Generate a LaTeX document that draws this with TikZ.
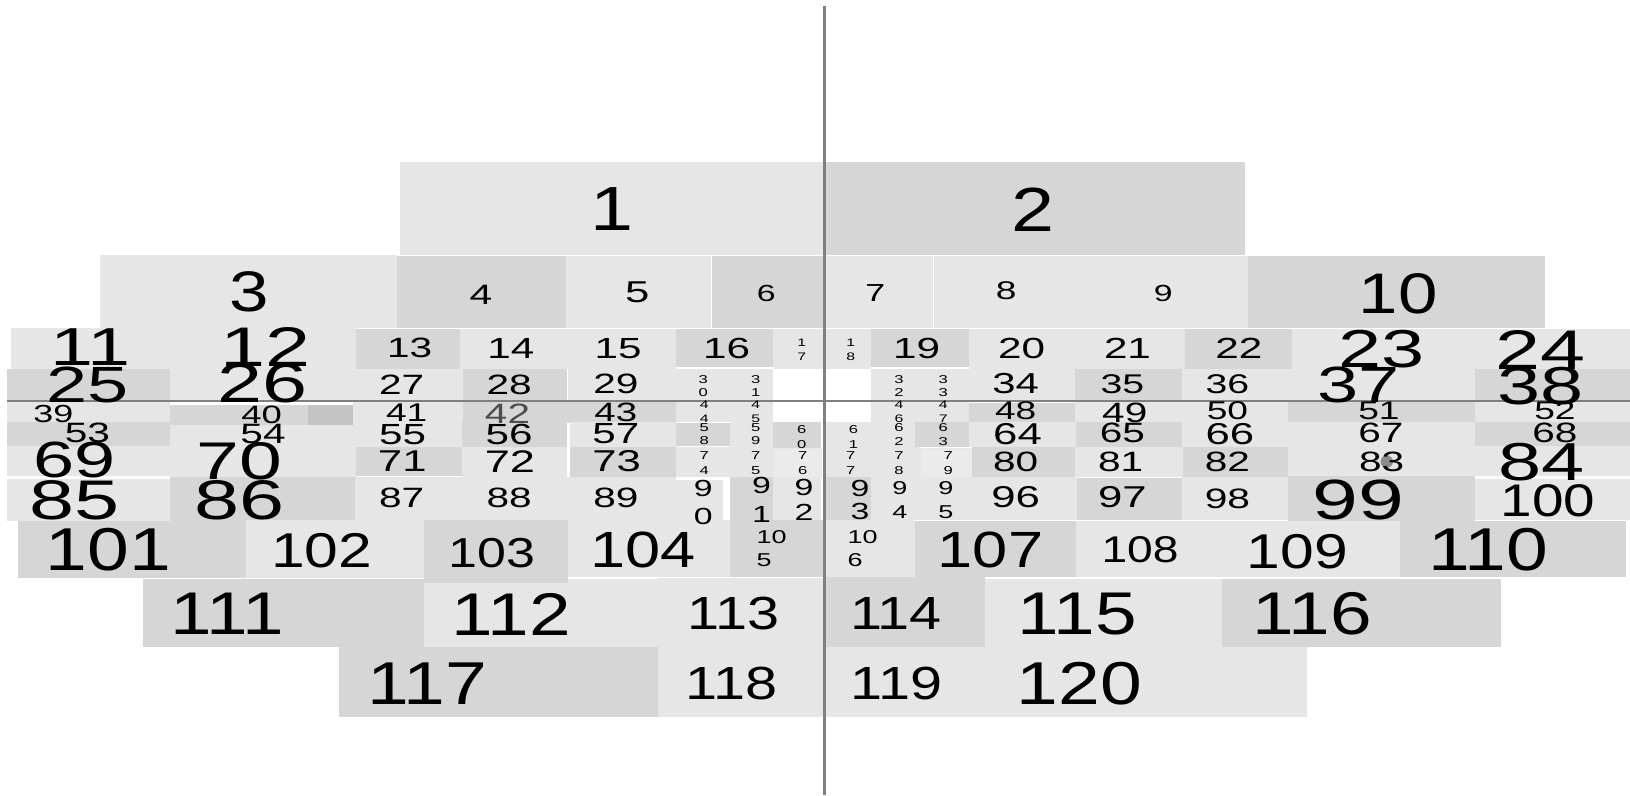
\documentclass[tikz,border=0pt]{standalone}
\usepackage{fontspec}
\setmainfont{Liberation Sans}[FakeStretch=1.45]
\newfontfamily\nf{Liberation Sans}[FakeStretch=1.24]
\definecolor{cl}{HTML}{E6E6E6}
\definecolor{cd}{HTML}{D6D6D6}
\definecolor{cp}{HTML}{C4C4C4}
\definecolor{cx}{HTML}{EBEBEB}
\definecolor{axis}{HTML}{808080}
\tikzset{
  lt/.style={fill=cl},
  dk/.style={fill=cd},
  lab/.style={inner sep=0pt, outer sep=0pt, text=black},
}
\newcommand\lb[4]{\node[lab,font=\fontsize{#3}{#3}\selectfont] (n#1) at (#2) {#4};}
\newcommand\lbn[4]{\node[lab,font=\nf\fontsize{#3}{#3}\selectfont] (n#1) at (#2) {#4};}
\newcommand\sk[5]{\node[lab,align=center,font=\fontsize{#3}{#4}\selectfont] (n#1) at (#2) {#5};}
\newcommand\skl[5]{\node[lab,align=left,anchor=west,font=\fontsize{#3}{#4}\selectfont] (n#1) at (#2) {#5};}
\begin{document}
\begin{tikzpicture}[x=1pt,y=-1pt]
\fill[white] (0,0) rectangle (1568,765);
\useasboundingbox (0,0) rectangle (1568,765);
% Row K
\fill[dk] (326,622.7) rectangle (633,690);
\fill[lt] (633,622.7) rectangle (793,690);
\fill[lt] (793,622.7) rectangle (1257.3,690);
% Row J
\fill[dk] (137.3,557) rectangle (407.5,622.7);
\fill[lt] (407.5,557) rectangle (633,622.7);
\fill[lt] (633,556) rectangle (793,622.7);
\fill[dk] (793,555) rectangle (947.7,622.7);
\fill[lt] (947.7,557) rectangle (1175.4,622.7);
\fill[dk] (1175.4,557) rectangle (1444.2,622.7);
% Row I
\fill[dk] (17.6,500.2) rectangle (236.4,556.3);
\fill[lt] (236.4,500) rectangle (407.5,556);
\fill[dk] (407.5,500) rectangle (546,561);
\fill[lt] (546,500) rectangle (702,555);
\fill[dk] (702,500) rectangle (793,555);
\fill[lt] (793,500) rectangle (880.5,555);
\fill[dk] (880.5,500.8) rectangle (1035.3,555.3);
\fill[lt] (1035.3,500.8) rectangle (1346.6,555.3);
\fill[dk] (1346.6,500.8) rectangle (1564.5,555.3);
% Row H
\fill[lt] (6.5,461) rectangle (163.5,501.6);
\fill[dk] (163.5,458.3) rectangle (341.5,500);
\fill[lt] (341.5,458.5) rectangle (650,500);
\fill[lt] (644.4,461.7) rectangle (695.8,501.6);
\fill[dk] (702,458.3) rectangle (744,500);
\fill[lt] (744,458.3) rectangle (790,500);
\fill[dk] (792,458.3) rectangle (838,500);
\fill[lt] (838,458.5) rectangle (932,500);
\fill[lt] (932,458.5) rectangle (1036,500);
\fill[dk] (1036,460) rectangle (1137,500);
\fill[lt] (1137,458.5) rectangle (1239,500);
\fill[dk] (1239,458.3) rectangle (1419,500.8);
\fill[lt] (1419,461) rectangle (1568,500);
% Row G
\fill[lt] (6.5,429.5) rectangle (163.5,458.3);
\fill[lt] (163.5,430) rectangle (343,458.5);
\fill[dk] (342.5,429.5) rectangle (444,458.3);
\fill[lt] (444,430) rectangle (545,458.5);
\fill[dk] (548,430) rectangle (650,458.5);
\fill[lt] (650,430) rectangle (744,458.5);
\fill[cx,draw=cl] (744,431) rectangle (790,459);
\fill[lt] (793,430) rectangle (885,458.5);
\fill[cx,draw=cl] (885,431) rectangle (935,459);
\fill[dk] (935,430) rectangle (1034,458.5);
\fill[lt] (1034,430) rectangle (1138,458.5);
\fill[dk] (1138,430) rectangle (1239,458.5);
\fill[lt] (1239,429.5) rectangle (1568,458.3);
% Row F
\fill[dk] (6.5,405.5) rectangle (163.5,429.5);
\fill[lt] (163.5,406) rectangle (444,430);
\fill[dk] (444,406) rectangle (545,430);
\fill[lt] (548,406) rectangle (650,430);
\fill[dk] (650,407) rectangle (702,429.5);
\fill[lt] (702,406) rectangle (744,430);
\fill[dk] (744,406) rectangle (790,430.5);
\fill[lt] (793,406) rectangle (880,430);
\fill[dk] (880,406) rectangle (932,430);
\fill[lt] (932,406) rectangle (1035,430);
\fill[dk] (1035,406) rectangle (1137,430);
\fill[lt] (1137,406) rectangle (1239,430);
\fill[lt] (1239,405.5) rectangle (1419,429.5);
\fill[dk] (1419,405.5) rectangle (1568,429.5);
% Row E
\fill[lt] (6.5,386) rectangle (163.5,406);
\fill[dk] (163.5,389.5) rectangle (340,409);
\fill[cp] (296,389.5) rectangle (340,409);
\fill[lt] (340,386) rectangle (445,406);
\fill[dk] (445,386) rectangle (548,407);
\fill[dk] (548,386) rectangle (650,406);
\fill[lt] (650,386) rectangle (744,406);
\fill[lt] (838,386) rectangle (932,406);
\fill[dk] (932,388) rectangle (1034,406);
\fill[lt] (1034,386) rectangle (1239,406);
\fill[dk] (1239,386) rectangle (1419,405.5);
\fill[lt] (1419,386) rectangle (1568,405.5);
% Row D
\fill[dk] (6.5,354.5) rectangle (163.5,386);
\fill[lt] (163.5,354.5) rectangle (445.5,386);
\fill[dk] (445.5,355) rectangle (545,385);
\fill[lt] (546.5,354.5) rectangle (744,386);
\fill[lt] (838,354.5) rectangle (1034,386);
\fill[dk] (1034,355) rectangle (1137,386);
\fill[lt] (1137,354.5) rectangle (1419,386);
\fill[dk] (1419,354.5) rectangle (1568,386);
% Row C
\fill[lt] (10.5,316) rectangle (343,354.5);
\fill[dk] (342.5,316.5) rectangle (442.5,354.5);
\fill[lt] (442.5,316.5) rectangle (650,354.5);
\fill[dk] (650,316.5) rectangle (744,353);
\fill[lt] (744,316.5) rectangle (838,354.5);
\fill[dk] (838,316.5) rectangle (932,353);
\fill[lt] (932,316.5) rectangle (1140,354.5);
\fill[dk] (1140,316.5) rectangle (1242.5,354.5);
\fill[lt] (1242.5,316.5) rectangle (1568,354.5);
% Row B
\fill[lt] (96,245.5) rectangle (382,316);
\fill[dk] (382,246.5) rectangle (544,316);
\fill[lt] (544,246.5) rectangle (684.5,316);
\fill[dk] (684.5,246.5) rectangle (793,316);
\fill[lt] (793,246.5) rectangle (1200.5,316);
\fill[dk] (1200.5,246.5) rectangle (1486,316);
\draw[white,line width=1pt] (684.5,246.5) -- (684.5,316) (898,246.5) -- (898,316);
% Row A
\fill[lt] (385,155.5) rectangle (793,245.5);
\fill[dk] (793,155.5) rectangle (1197.5,245.5);
% axes
\coordinate (vt) at (793,6);
\coordinate (vb) at (793,765);
\coordinate (hl) at (6.5,386);
\coordinate (hr) at (1568,386);
\draw[axis,line width=2.4pt] (vt) -- (vb);
\draw[axis,line width=2pt] (hl) -- (hr);
\fill[black!45] (1334,444) circle (6);
% labels
\lbn{1}{589,201.5}{60}{1}
\lbn{2}{994,202}{60}{2}
\lbn{3}{240,281}{55}{3}
\lb{4}{462.6,284}{27}{4}
\lb{5}{613,281}{29}{5}
\lb{6}{737,282}{22.4}{6}
\lb{7}{842,282}{23.7}{7}
\lb{8}{968,280}{24.6}{8}
\lb{9}{1119,282}{22.4}{9}
\lbn{10}{1345,283}{55}{10}
\lb{11}{87.3,334.3}{51.4}{11}
\lb{12}{255.6,333.5}{53.7}{12}
\lb{13}{394,335}{26.9}{13}
\lb{14}{491.4,335.5}{28}{14}
\lb{15}{594.6,335.5}{28}{15}
\lb{16}{699,335.5}{28}{16}
\sk{17}{771.2,336.7}{10.5}{13.5}{1\\7}
\sk{18}{818.3,336.7}{10.5}{13.5}{1\\8}
\lb{19}{881.8,335.5}{28}{19}
\lb{20}{982.8,335.5}{28}{20}
\lb{21}{1084.6,335.5}{28}{21}
\lb{22}{1191.8,335.5}{28}{22}
\lb{23}{1329,335.8}{51.4}{23}
\lb{24}{1482,336.7}{53.7}{24}
\lb{25}{84.1,370.3}{49}{25}
\lb{26}{253,368.6}{53.7}{26}
\lb{27}{386.4,370.4}{26.9}{27}
\lb{28}{489.7,370.4}{26.9}{28}
\lb{29}{592.4,369}{26.9}{29}
\sk{30}{676.5,371.2}{11}{12.8}{3\\0}
\sk{31}{726.9,371.2}{11}{12.8}{3\\1}
\sk{32}{864.8,371.2}{11}{12.8}{3\\2}
\sk{33}{907.4,371.2}{11}{12.8}{3\\3}
\lb{34}{977,369}{27.8}{34}
\lb{35}{1079.7,370}{26}{35}
\lb{36}{1180.7,370}{26}{36}
\lb{37}{1306.5,370.3}{49}{37}
\lb{38}{1482,371}{51.4}{38}
\lb{39}{51.3,398}{23.8}{39}
\lb{40}{251.6,399.2}{24.2}{40}
\lb{41}{391.2,396.8}{24.6}{41}
\node[lab,text=black!70,font=\fontsize{26.9}{26.9}\selectfont] (n42) at (488.2,397.6) {42};
\lb{43}{592.4,396.5}{25.5}{43}
\sk{44}{677.5,396}{10.5}{12.8}{4\\4}
\sk{45}{726.9,396}{10.5}{12.8}{4\\5}
\sk{46}{864.8,396}{10.5}{12.8}{4\\6}
\sk{47}{907.4,396}{10.5}{12.8}{4\\7}
\lb{48}{977,395.2}{24.6}{48}
\lb{49}{1082,397.6}{26.9}{49}
\lb{50}{1180.7,395.2}{24.6}{50}
\lb{51}{1326.5,395.2}{24.6}{51}
\lb{52}{1495.8,395.2}{24.6}{52}
\lb{53}{84.1,416.8}{26.9}{53}
\lb{54}{253,417.5}{26.9}{54}
\lb{55}{387.2,418}{28}{55}
\lb{56}{489.7,418}{28}{56}
\lb{57}{592.4,417.2}{28}{57}
\sk{58}{677.5,417.7}{11}{12.8}{5\\8}
\sk{59}{726.9,417.7}{11}{12.8}{5\\9}
\sk{60}{771.2,420.5}{11}{14}{6\\0}
\sk{61}{821,420.5}{11}{14}{6\\1}
\sk{62}{864.8,418.4}{11}{13.5}{6\\2}
\sk{63}{907.4,418}{11}{13.5}{6\\3}
\lb{64}{978.8,417.5}{29}{64}
\lb{65}{1079.7,416.8}{26.9}{65}
\lb{66}{1183.2,417.5}{29}{66}
\lb{67}{1328.4,416.8}{26.9}{67}
\lb{68}{1495.8,416.8}{26.9}{68}
\lb{69}{72,442.6}{49}{69}
\lb{70}{230,443.3}{51}{70}
\lb{71}{387,443.3}{29}{71}
\lb{72}{490.6,444}{30}{72}
\lb{73}{593.2,443.3}{29}{73}
\sk{74}{677.5,445.7}{11}{14.4}{7\\4}
\sk{75}{726.9,445.7}{11}{14.4}{7\\5}
\sk{76}{772.1,445.7}{11}{14.4}{7\\6}
\sk{77}{818.3,445.7}{11}{14.4}{7\\7}
\sk{78}{864.8,445.7}{11}{14.4}{7\\8}
\sk{79}{912.2,445.7}{11}{14.4}{7\\9}
\lb{80}{977,444}{26.9}{80}
\lb{81}{1078,444}{26.9}{81}
\lb{82}{1180.7,444}{26.9}{82}
\lb{83}{1329,444}{26.9}{83}
\lb{84}{1483,444.9}{51.4}{84}
\lb{85}{72,481}{53.7}{85}
\lb{86}{230,481}{53.7}{86}
\lb{87}{386.4,479.4}{26.9}{87}
\lb{88}{489.7,479.4}{26.9}{88}
\lb{89}{592.4,479.4}{26.9}{89}
\sk{90}{676.5,483.4}{22.4}{27.3}{9\\0}
\sk{91}{732.6,481}{22.4}{27.3}{9\\1}
\sk{92}{773.4,481}{22.4}{24}{9\\2}
\sk{93}{827.2,481}{22.4}{22.4}{9\\3}
\sk{94}{865.7,481}{17.9}{22.4}{9\\4}
\sk{95}{910,481}{17.9}{22.4}{9\\5}
\lb{96}{977,478.6}{29}{96}
\lb{97}{1079.7,478.6}{29}{97}
\lb{98}{1180.7,479.4}{27}{98}
\lb{99}{1306.5,480.8}{54.6}{99}
\lbn{100}{1489,481.7}{44}{100}
\lbn{101}{104.4,529}{58.2}{101}
\lbn{102}{309.4,530}{47}{102}
\lbn{103}{472.9,532.3}{40.3}{103}
\lbn{104}{618.8,529}{49}{104}
\skl{105}{727.8,527.4}{17.9}{22.4}{10\\5}
\skl{106}{815.4,527.5}{17.9}{22.4}{10\\6}
\lbn{107}{952.8,529}{49}{107}
\lbn{108}{1096.7,529}{35.8}{108}
\lbn{109}{1248,530.7}{47}{109}
\lbn{110}{1431.4,529}{58.2}{110}
\lbn{111}{219,590.6}{58}{111}
\lbn{112}{492,590.6}{58}{112}
\lbn{113}{705.5,590}{44.7}{113}
\lbn{114}{862,590}{44.7}{114}
\lbn{115}{1036.5,590.6}{58}{115}
\lbn{116}{1262.2,590.6}{58}{116}
\lbn{117}{411.3,657.3}{58.2}{117}
\lbn{118}{703.5,657.3}{44.7}{118}
\lbn{119}{862.5,657.3}{44.7}{119}
\lbn{120}{1038.2,657.3}{58.2}{120}
\end{tikzpicture}
\end{document}
